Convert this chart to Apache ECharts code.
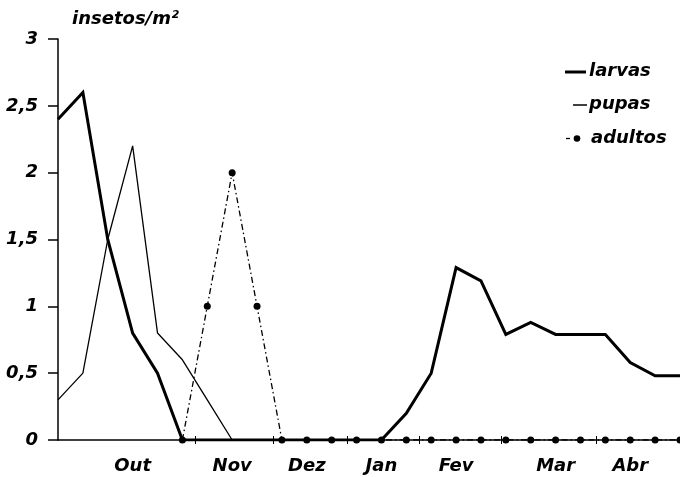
<!DOCTYPE html>
<html>
<head>
<meta charset="utf-8">
<script src="https://cdn.jsdelivr.net/npm/echarts@6/dist/echarts.min.js"></script>
<style>html,body{margin:0;padding:0;background:#fff}#c{width:680px;height:477px}</style>
</head>
<body>
<div id="c"></div>
<script>
// sampling index 0..25 along the season (x positions of observations)
var sampleIdx = [0,1,2,3,4,5,6,7,8,9,10,11,12,13,14,15,16,17,18,19,20,21,22,23,24,25];
var larvas  = [2.4, 2.6, 1.5, 0.8, 0.5, 0, 0, 0, 0, 0, 0, 0, 0, 0, 0.2, 0.5, 1.29, 1.19, 0.79, 0.88, 0.79, 0.79, 0.79, 0.58, 0.48, 0.48];
var pupas   = [0.3, 0.5, 1.5, 2.2, 0.8, 0.6, 0.3, 0, null, null, null, null, null, null, null, null, null, null, null, null, null, null, null, null, null, null];
var adultos = [null, null, null, null, null, 0, 1, 2, 1, 0, 0, 0, 0, 0, 0, 0, 0, 0, 0, 0, 0, 0, 0, 0, 0, 0];
var monthNames = ['Out','Nov','Dez','Jan','Fev','Mar','Abr'];
var monthLabelAt = [3, 7, 10, 13, 16, 20, 23];
var monthTickAt = [5.5, 8.65, 11.63, 14.52, 17.8, 21.65];
var yTitle = 'insetos/m²';
var legendNames = ['larvas', 'pupas', 'adultos'];

function pairs(arr){ return sampleIdx.map(function(x,i){ return [x, arr[i]]; }); }

var font = '"DejaVu Sans", Verdana, sans-serif';
var txt = {fontFamily:font, fontWeight:'bold', fontStyle:'italic', fontSize:18, fill:'#000'};
function legendText(name, x, y){
  return {type:'text', x:x, y:y, silent:true,
    style:Object.assign({}, txt, {text:name, textVerticalAlign:'middle', textAlign:'left'})};
}
var chart = echarts.init(document.getElementById('c'), null, {renderer:'canvas'});
var xCommon = {
  type:'value', min:0, max:25, position:'bottom',
  splitLine:{show:false}
};
chart.setOption({
  animation:false,
  backgroundColor:'#fff',
  grid:{left:58, right:0, top:39, bottom:37},
  graphic:[
    {type:'line', silent:true, shape:{x1:565, y1:72, x2:586, y2:72}, style:{stroke:'#000', lineWidth:3}},
    legendText(legendNames[0], 589, 71),
    {type:'line', silent:true, shape:{x1:573, y1:105, x2:587, y2:105}, style:{stroke:'#000', lineWidth:1.5}},
    legendText(legendNames[1], 589, 104),
    {type:'line', silent:true, shape:{x1:566, y1:138.5, x2:570, y2:138.5}, style:{stroke:'#000', lineWidth:1.3}},
    {type:'circle', silent:true, shape:{cx:577, cy:138.5, r:3.3}, style:{fill:'#000'}},
    legendText(legendNames[2], 591, 138)
  ],
  xAxis:[
    Object.assign({}, xCommon, {
      axisLine:{show:true, lineStyle:{color:'#000', width:1.5}},
      axisTick:{show:true, inside:false, length:4, customValues:monthTickAt, lineStyle:{color:'#000', width:1}},
      axisLabel:{show:true, customValues:monthLabelAt, margin:17,
        formatter:function(v){ var i = monthLabelAt.indexOf(v); return i>=0 ? monthNames[i] : ''; },
        fontFamily:font, fontWeight:'bold', fontStyle:'italic', fontSize:18, color:'#000'}
    }),
    Object.assign({}, xCommon, {
      axisLine:{show:false},
      axisTick:{show:true, inside:true, length:4, customValues:monthTickAt, lineStyle:{color:'#000', width:1}},
      axisLabel:{show:false}
    })
  ],
  yAxis:{
    type:'value', min:0, max:3, interval:0.5,
    name:yTitle, nameLocation:'end', nameGap:11,
    nameTextStyle:{fontFamily:font, fontWeight:'bold', fontStyle:'italic', fontSize:18, color:'#000', align:'left', padding:[0,0,0,14]},
    axisLine:{show:true, lineStyle:{color:'#000', width:1.5}},
    axisTick:{show:true, length:10, lineStyle:{color:'#000', width:1.5}},
    axisLabel:{margin:20, fontFamily:font, fontWeight:'bold', fontStyle:'italic', fontSize:18, color:'#000',
      formatter:function(v){ return String(v).replace('.', ','); }},
    splitLine:{show:false}
  },
  series:[
    {name:'pupas', type:'line', data:pairs(pupas), showSymbol:false, symbol:'none',
     lineStyle:{color:'#000', width:1.3}, itemStyle:{color:'#000'}, z:3},
    {name:'adultos', type:'line', data:pairs(adultos), symbol:'circle', symbolSize:7, showSymbol:true,
     lineStyle:{color:'#000', width:1.3, type:[6,3,1.5,3]}, itemStyle:{color:'#000'}, z:4},
    {name:'larvas', type:'line', data:pairs(larvas), showSymbol:false, symbol:'none',
     lineStyle:{color:'#000', width:3, join:'miter'}, itemStyle:{color:'#000'}, z:5}
  ]
});
</script>
</body>
</html>
